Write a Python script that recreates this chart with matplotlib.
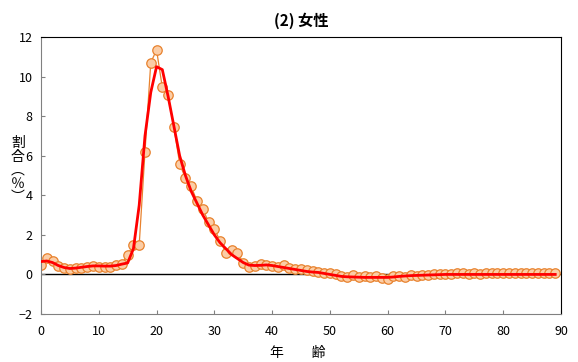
import matplotlib
matplotlib.use("Agg")
import matplotlib.pyplot as plt
import numpy as np

plt.rcParams['font.family'] = ['Noto Sans CJK JP', 'DejaVu Sans']

ages = np.arange(0, 90)
# 各年齢の割合（%）
actual = [0.5, 0.85, 0.7, 0.45, 0.3, 0.25, 0.3, 0.35, 0.4, 0.45,
          0.4, 0.4, 0.4, 0.5, 0.55, 1.0, 1.5, 1.5, 6.2, 10.7,
          11.35, 9.45, 9.05, 7.45, 5.6, 4.85, 4.45, 3.7, 3.3, 2.65,
          2.3, 1.7, 1.1, 1.25, 1.1, 0.6, 0.4, 0.45, 0.55, 0.5,
          0.45, 0.4, 0.5, 0.3, 0.25, 0.25, 0.2, 0.15, 0.1, 0.05,
          0.05, 0.0, -0.1, -0.15, -0.05, -0.15, -0.1, -0.15, -0.1, -0.2,
          -0.25, -0.1, -0.1, -0.15, -0.05, -0.1, -0.05, -0.05, 0.0, 0.0,
          0.0, 0.0, 0.05, 0.05, 0.0, 0.05, 0.0, 0.05, 0.05, 0.05,
          0.05, 0.05, 0.05, 0.05, 0.05, 0.05, 0.05, 0.05, 0.05, 0.05]
# 平滑化した線
smooth = [0.65, 0.68, 0.6, 0.45, 0.35, 0.3, 0.32, 0.36, 0.4, 0.43,
          0.43, 0.42, 0.42, 0.45, 0.52, 0.58, 1.3, 3.5, 7.0, 9.2,
          10.5, 10.35, 9.0, 7.5, 6.0, 5.0, 4.2, 3.6, 3.0, 2.5,
          2.0, 1.6, 1.3, 1.0, 0.8, 0.6, 0.47, 0.45, 0.46, 0.48,
          0.45, 0.4, 0.35, 0.3, 0.25, 0.2, 0.15, 0.12, 0.1, 0.05,
          0.0, -0.05, -0.1, -0.12, -0.13, -0.14, -0.15, -0.15, -0.15, -0.15,
          -0.15, -0.13, -0.1, -0.08, -0.06, -0.05, -0.04, -0.03, -0.02, -0.01,
          0.0, 0.0, 0.0, 0.0, 0.0, 0.0, 0.0, 0.0, 0.0, 0.0,
          0.0, 0.0, 0.0, 0.0, 0.0, 0.0, 0.0, 0.0, 0.0, 0.0]

fig = plt.figure(figsize=(5.78, 3.62), dpi=100)
ax = fig.add_axes([0.0709, 0.1326, 0.8997, 0.7652])

ax.plot(ages, actual, color='#E8822E', lw=0.9, marker='o', markersize=6.8,
        markerfacecolor='#FBCDA6', markeredgecolor='#E8822E', markeredgewidth=0.9, zorder=2)
ax.plot(ages, smooth, color='#FF0000', lw=2.0, zorder=3)
ax.axhline(0, color='black', lw=1.0, zorder=1)

ax.set_xlim(0, 90)
ax.set_ylim(-2, 12)
ax.set_xticks(np.arange(0, 91, 10))
ax.set_yticks(np.arange(-2, 13, 2))
ax.tick_params(direction='in', length=3, labelsize=9, colors='#808080', labelcolor='black')
ax.tick_params(axis='x', pad=8)
ax.tick_params(axis='y', pad=6)

for s in ['left', 'bottom']:
    ax.spines[s].set_color('#808080')
for s in ['top', 'right']:
    ax.spines[s].set_color('black')

ax.set_title('(2) 女性', fontsize=11, fontweight='bold', pad=8)
fig.text(0.5155, 0.025, '年　　齢', ha='center', va='center', fontsize=10)
fig.text(0.031, 0.53, '割\n合\n︵\n％\n︶', ha='center', va='center', fontsize=10, linespacing=0.95)

fig.savefig('out.png', dpi=100)
